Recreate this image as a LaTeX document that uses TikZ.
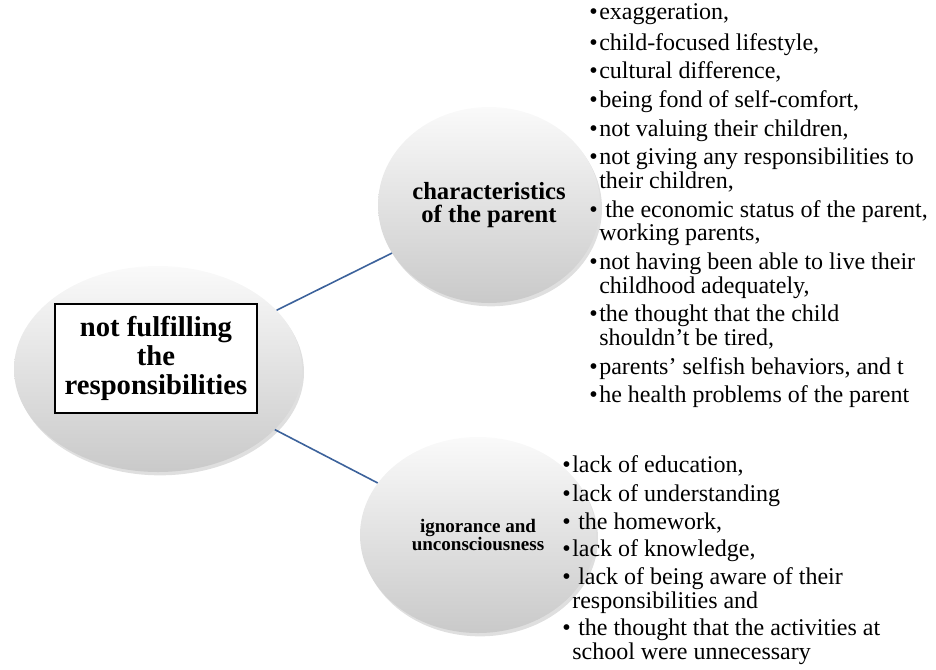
\documentclass[tikz,border=0pt]{standalone}
\usepackage{fontspec}
\setmainfont{Liberation Serif}
\usetikzlibrary{shapes.geometric,shadows}
\definecolor{linkblue}{RGB}{60,98,155}
\newcommand{\bul}{\makebox[7.5pt][l]{\textbullet}}
\newcommand{\hng}{\hspace*{7.5pt}}
\begin{document}
\begin{tikzpicture}[x=0.75pt,y=-0.75pt,
    bubble/.style={ellipse,inner sep=0pt,top color=gray!4,bottom color=gray!42,
      drop shadow={opacity=0.25,shadow xshift=1.5pt,shadow yshift=-2.5pt},align=center},
    conn/.style={linkblue,line width=1.2pt},
    lst/.style={anchor=north west,inner sep=0pt,align=left,font=\fontsize{18}{17.75}\selectfont}]
  \useasboundingbox (0,0) rectangle (936,669);
  \node[bubble,minimum width=216pt,minimum height=154.5pt] (root) at (158,369) {};
  \node[bubble,minimum width=166.5pt,minimum height=147pt,font=\bfseries\fontsize{18.5}{17.25}\selectfont] (par) at (489,205) {characteristics\\of the parent};
  \node[bubble,minimum width=177pt,minimum height=147pt,font=\bfseries\fontsize{14.3}{13.5}\selectfont] (ign) at (478,535) {ignorance and\\unconsciousness};
  \draw[conn] (root) -- (par);
  \draw[conn] (root) -- (ign);
  \node[draw,line width=1.1pt,fill=white,minimum width=151.5pt,minimum height=81.75pt,align=center,font=\bfseries\fontsize{21.5}{22}\selectfont] (box) at (156,358.5) {not fulfilling\\the\\responsibilities};
  \node[lst] (plist) at (589,3) {\strut\bul exaggeration,\\[3.75pt]
    \bul child-focused lifestyle,\\[3.75pt]
    \bul cultural difference,\\[3.75pt]
    \bul being fond of self-comfort,\\[3.75pt]
    \bul not valuing their children,\\[3.75pt]
    \bul not giving any responsibilities to\\
    \hng their children,\\[3.75pt]
    \bul\ the economic status of the parent,\\
    \hng working parents,\\[3.75pt]
    \bul not having been able to live their\\
    \hng childhood adequately,\\[3.75pt]
    \bul the thought that the child\\
    \hng shouldn’t be tired,\\[3.75pt]
    \bul parents’ selfish behaviors, and t\\[3.75pt]
    \bul he health problems of the parent};
  \node[lst] (ilist) at (562,455) {\strut\bul lack of education,\\[3pt]
    \bul lack of understanding\\[3pt]
    \bul\ the homework,\\[3pt]
    \bul lack of knowledge,\\[3pt]
    \bul\ lack of being aware of their\\
    \hng responsibilities and\\[3pt]
    \bul\ the thought that the activities at\\
    \hng school were unnecessary};
\end{tikzpicture}
\end{document}
